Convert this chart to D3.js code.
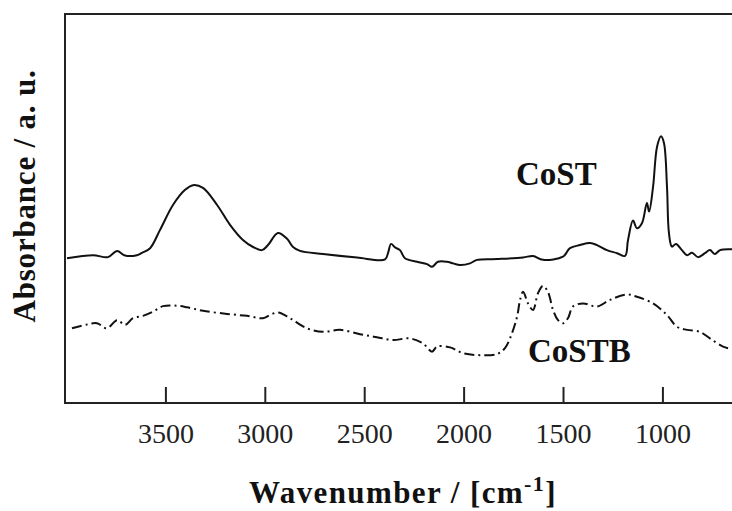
<!DOCTYPE html>
<html>
<head>
<meta charset="utf-8">
<script src="https://cdn.jsdelivr.net/npm/d3@7/dist/d3.min.js"></script>
<style>
  body { margin: 0; background: #fff; }
  svg { display: block; font-family: "Liberation Serif", "Times New Roman", serif; }
</style>
</head>
<body>
<div id="chart"></div>
<script>
// wavenumber (cm-1) / absorbance (a.u.)
const costWn = [3995, 3864, 3789, 3743, 3703, 3643, 3618, 3577, 3527, 3462, 3401, 3361, 3311, 3240, 3175, 3110,
  3059, 3014, 2984, 2934, 2888, 2858, 2823, 2707, 2536, 2395, 2380, 2365, 2345, 2320, 2295, 2234, 2184, 2159,
  2129, 2084, 2053, 2018, 1968, 1933, 1832, 1701, 1651, 1601, 1500, 1465, 1415, 1364, 1329, 1279, 1228, 1188,
  1173, 1148, 1128, 1103, 1078, 1067, 1047, 1027, 1007, 992, 977, 967, 952, 932, 902, 876, 851, 821, 786, 761,
  736, 710, 650];
const costAbs = [0.372, 0.380, 0.375, 0.391, 0.379, 0.380, 0.386, 0.398, 0.445, 0.509, 0.548, 0.560, 0.553, 0.509,
  0.458, 0.419, 0.401, 0.393, 0.406, 0.437, 0.422, 0.401, 0.391, 0.383, 0.374, 0.369, 0.386, 0.409, 0.400, 0.393,
  0.372, 0.363, 0.357, 0.350, 0.363, 0.363, 0.359, 0.355, 0.359, 0.368, 0.370, 0.374, 0.378, 0.368, 0.376, 0.398,
  0.406, 0.411, 0.406, 0.393, 0.385, 0.378, 0.419, 0.469, 0.449, 0.462, 0.514, 0.492, 0.556, 0.659, 0.686, 0.668,
  0.556, 0.436, 0.402, 0.409, 0.393, 0.380, 0.386, 0.375, 0.385, 0.393, 0.383, 0.393, 0.395];

const costbWn = [3970, 3894, 3844, 3794, 3743, 3703, 3663, 3613, 3562, 3512, 3442, 3391, 3311, 3190, 3090, 3009,
  2974, 2934, 2873, 2788, 2707, 2622, 2521, 2436, 2355, 2270, 2204, 2159, 2134, 2068, 2003, 1918, 1832, 1792,
  1757, 1731, 1716, 1701, 1676, 1651, 1626, 1601, 1576, 1550, 1525, 1500, 1475, 1450, 1399, 1329, 1264, 1178,
  1128, 1047, 977, 927, 876, 811, 761, 695, 650];
const costbAbs = [0.192, 0.202, 0.205, 0.192, 0.213, 0.201, 0.218, 0.224, 0.235, 0.249, 0.250, 0.246, 0.237, 0.229,
  0.224, 0.218, 0.226, 0.233, 0.218, 0.192, 0.183, 0.188, 0.177, 0.169, 0.162, 0.166, 0.153, 0.132, 0.145, 0.143,
  0.128, 0.123, 0.126, 0.141, 0.179, 0.222, 0.265, 0.286, 0.256, 0.239, 0.282, 0.301, 0.286, 0.239, 0.213, 0.205,
  0.218, 0.248, 0.256, 0.248, 0.265, 0.279, 0.273, 0.256, 0.226, 0.196, 0.188, 0.183, 0.166, 0.145, 0.138];

const tickValues = [3500, 3000, 2500, 2000, 1500, 1000];
const seriesNames = ['CoST', 'CoSTB'];

const width = 732, height = 511;
const m = { left: 66, right: 732, top: 14, bottom: 403 };
const serif = '"Liberation Serif", "Times New Roman", serif';

const svg = d3.select('#chart').append('svg')
  .attr('width', width)
  .attr('height', height);

const x = d3.scaleLinear().domain([4000, 650]).range([m.left, m.right]);
const y = d3.scaleLinear().domain([0, 1]).range([m.bottom, m.top]);

svg.append('clipPath').attr('id', 'plot-clip')
  .append('rect')
  .attr('x', m.left).attr('y', m.top)
  .attr('width', m.right - m.left).attr('height', m.bottom - m.top);

const line = d3.line()
  .x(d => x(d[0]))
  .y(d => y(d[1]))
  .curve(d3.curveCatmullRom.alpha(0.5));

const plot = svg.append('g').attr('clip-path', 'url(#plot-clip)');

plot.append('path')
  .datum(d3.zip(costWn, costAbs))
  .attr('fill', 'none')
  .attr('stroke', '#111')
  .attr('stroke-width', 2)
  .attr('d', line);

plot.append('path')
  .datum(d3.zip(costbWn, costbAbs))
  .attr('fill', 'none')
  .attr('stroke', '#111')
  .attr('stroke-width', 2)
  .attr('stroke-dasharray', '10,4,2,4')
  .attr('d', line);

// frame: left + top (right side is cut off in the original)
svg.append('path')
  .attr('fill', 'none')
  .attr('stroke', '#222')
  .attr('stroke-width', 2)
  .attr('d', `M${m.right + 2},${m.top}H${m.left - 1}V${m.bottom}`);

const xAxis = svg.append('g')
  .attr('transform', `translate(0,${m.bottom})`)
  .call(d3.axisBottom(x)
    .tickValues(tickValues)
    .tickSizeInner(-16)
    .tickSizeOuter(0)
    .tickPadding(20)
    .tickFormat(d3.format('d')));

xAxis.select('.domain')
  .attr('stroke', '#222')
  .attr('stroke-width', 2)
  .attr('d', `M${m.left - 2},0H${m.right + 2}`);
xAxis.selectAll('.tick line').attr('stroke', '#222').attr('stroke-width', 2);
xAxis.selectAll('.tick text')
  .attr('fill', '#222')
  .attr('font-family', serif)
  .attr('font-size', 28);

// axis titles
const xTitle = svg.append('text')
  .attr('x', 403)
  .attr('y', 503)
  .attr('text-anchor', 'middle')
  .attr('font-family', serif)
  .attr('font-weight', 'bold')
  .attr('font-size', 31)
  .attr('letter-spacing', 1.4)
  .attr('fill', '#111');
xTitle.append('tspan').text('Wavenumber / [cm');
xTitle.append('tspan').attr('font-size', 22).attr('dy', -12).text('-1');
xTitle.append('tspan').attr('dy', 12).text(']');

svg.append('text')
  .attr('transform', 'translate(35,196) rotate(-90)')
  .attr('text-anchor', 'middle')
  .attr('font-family', serif)
  .attr('font-weight', 'bold')
  .attr('font-size', 31)
  .attr('letter-spacing', 0.8)
  .attr('fill', '#111')
  .text('Absorbance / a. u.');

// series labels
svg.append('text')
  .attr('x', 516).attr('y', 185)
  .attr('font-family', serif)
  .attr('font-weight', 'bold')
  .attr('font-size', 33)
  .attr('fill', '#111')
  .text(seriesNames[0]);

svg.append('text')
  .attr('x', 528).attr('y', 362)
  .attr('font-family', serif)
  .attr('font-weight', 'bold')
  .attr('font-size', 33)
  .attr('fill', '#111')
  .text(seriesNames[1]);
</script>
</body>
</html>
